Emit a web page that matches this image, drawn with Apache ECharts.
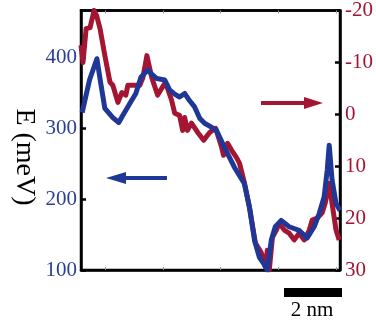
<!DOCTYPE html>
<html>
<head>
<meta charset="utf-8">
<script src="https://cdn.jsdelivr.net/npm/echarts@6/dist/echarts.min.js"></script>
<style>html,body{margin:0;padding:0;background:#fff}#c{width:376px;height:325px}</style>
</head>
<body>
<div id="c"></div>
<script>
// Position along the line (nm) and energies
const blueX = [0.04,0.30,0.56,0.70,0.84,1.12,1.33,1.47,1.75,1.93,2.11,2.35,2.50,2.67,2.95,3.12,3.30,3.47,3.65,3.82,4.00,4.18,4.35,4.53,4.77,5.05,5.40,5.75,5.93,6.11,6.28,6.45,6.56,6.70,6.84,7.05,7.33,7.68,7.96,8.21,8.39,8.56,8.67,8.74,8.84,8.98,9.12];
const blueE = [322,368,398,362,328,315,308,318,337,349,372,382,376,370,368,354,348,344,349,339,330,314,307,303,297,273,245,222,189,142,118,108,100,142,161,170,161,156,145,161,180,203,241,276,227,194,184];
const redX = [0.00,0.07,0.18,0.32,0.46,0.55,0.67,0.84,1.02,1.12,1.30,1.44,1.58,1.65,1.80,2.07,2.18,2.32,2.49,2.70,2.95,3.05,3.19,3.30,3.47,3.58,3.65,3.75,3.89,4.11,4.32,4.53,4.74,4.95,5.02,5.16,5.30,5.47,5.58,5.75,5.93,6.14,6.35,6.49,6.56,6.63,6.74,6.88,6.98,7.16,7.33,7.51,7.68,7.86,8.04,8.14,8.32,8.49,8.60,8.74,8.84,8.98,9.09];
const redV = [-13.3,-10.0,-16.5,-16.7,-20.0,-19.0,-16.5,-11.3,-6.2,-5.6,-2.3,-4.2,-3.7,-5.6,-5.6,-5.6,-7.1,-11.3,-7.1,-3.7,-6.0,-5.0,-2.7,-0.2,0.2,3.1,0.6,3.1,1.7,3.5,5.0,3.5,2.7,6.3,7.9,5.6,6.9,8.3,9.4,13.1,17.9,24.8,26.7,29.4,26.2,30.0,23.7,22.3,21.0,22.3,22.9,24.2,22.9,24.2,22.3,20.4,20.0,19.0,17.1,13.3,17.1,22.3,24.2];
const leftTicks = [100,200,300,400];
const rightTicks = [-20,-10,0,10,20,30];
const minorX = [0.84,2.88,4.91,6.95,8.98];

const BLUE = '#1f3796', RED = '#a31532', BLUET = '#2b3f96', REDT = '#a31532';
const serif = '"Liberation Serif","DejaVu Serif",serif';

const chart = echarts.init(document.getElementById('c'), null, {renderer:'canvas'});
chart.setOption({
  animation:false,
  grid:{left:81, top:10, width:260, height:260, show:true, borderColor:'#000', borderWidth:2.5, backgroundColor:'transparent'},
  xAxis:[{type:'value', min:0, max:9.12, position:'bottom',
          axisLine:{show:true, onZero:false, lineStyle:{color:'#000', width:2.5}},
          axisTick:{show:true, inside:true, length:3, customValues:minorX, lineStyle:{color:'#999', width:1}},
          axisLabel:{show:false}, splitLine:{show:false}},
         {type:'value', min:0, max:9.12, position:'top',
          axisLine:{show:true, onZero:false, lineStyle:{color:'#000', width:2.5}},
          axisTick:{show:true, inside:true, length:3, customValues:minorX, lineStyle:{color:'#999', width:1}},
          axisLabel:{show:false}, splitLine:{show:false}}],
  yAxis:[{type:'value', min:100, max:466, interval:100, position:'left',
          axisLine:{show:true, onZero:false, lineStyle:{color:'#000', width:2.5}},
          axisTick:{show:true, inside:true, length:5, customValues:leftTicks, lineStyle:{color:'#000', width:2.5}},
          axisLabel:{customValues:leftTicks, color:BLUET, fontFamily:serif, fontSize:21, margin:4},
          splitLine:{show:false}},
         {type:'value', min:-20, max:30, interval:10, inverse:true, position:'right',
          axisLine:{show:true, onZero:false, lineStyle:{color:'#000', width:2.5}},
          axisTick:{show:true, inside:true, length:5, customValues:rightTicks, lineStyle:{color:'#000', width:2.5}},
          axisLabel:{customValues:rightTicks, color:REDT, fontFamily:serif, fontSize:21, margin:5},
          splitLine:{show:false}}],
  series:[
    {type:'line', yAxisIndex:1, data:redX.map((x,i)=>[x,redV[i]]), showSymbol:false,
     lineStyle:{color:RED, width:5, join:'round'}, z:2},
    {type:'line', yAxisIndex:0, data:blueX.map((x,i)=>[x,blueE[i]]), showSymbol:false,
     lineStyle:{color:BLUE, width:5, join:'round'}, z:3}
  ],
  graphic:[
    {type:'text', x:24, y:157, rotation:-Math.PI/2, style:{text:'E (meV)', fill:'#000', font:'28px '+serif, align:'center', verticalAlign:'middle'}},
    {type:'line', shape:{x1:122, y1:178, x2:167, y2:178}, style:{stroke:BLUE, lineWidth:4}},
    {type:'polygon', shape:{points:[[106,178],[126,172],[126,184]]}, style:{fill:BLUE}},
    {type:'line', shape:{x1:261, y1:103, x2:307, y2:103}, style:{stroke:RED, lineWidth:4}},
    {type:'polygon', shape:{points:[[323,103],[304,97],[304,109]]}, style:{fill:RED}},
    {type:'rect', shape:{x:284, y:288, width:58, height:9}, style:{fill:'#000'}},
    {type:'text', x:312, y:310, style:{text:'2 nm', fill:'#000', font:'21px '+serif, align:'center', verticalAlign:'middle'}}
  ]
});
</script>
</body>
</html>
